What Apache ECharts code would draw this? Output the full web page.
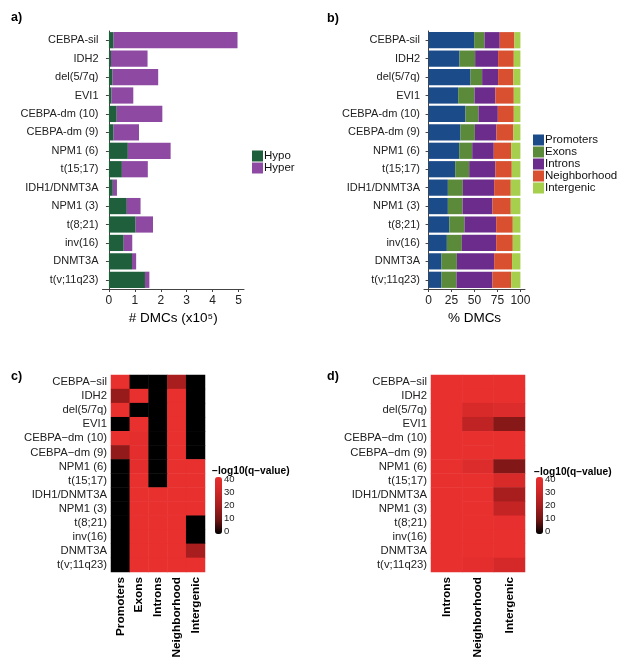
<!DOCTYPE html>
<html>
<head>
<meta charset="utf-8">
<script src="https://cdn.jsdelivr.net/npm/echarts@6/dist/echarts.min.js"></script>
<style>
  html, body { margin: 0; padding: 0; background: #fff; }
  #chart { width: 624px; height: 665px; }
</style>
</head>
<body>
<div id="chart"></div>
<script>
const groups = ['CEBPA-sil', 'IDH2', 'del(5/7q)', 'EVI1', 'CEBPA-dm (10)', 'CEBPA-dm (9)', 'NPM1 (6)',
  't(15;17)', 'IDH1/DNMT3A', 'NPM1 (3)', 't(8;21)', 'inv(16)', 'DNMT3A', 't(v;11q23)']
// heatmap panels print the dash as a minus sign
const groupsHeat = groups.map(g => g.replace('-', '\u2212'))

// a) number of DMCs (x10^5)
const hypo = [0.18, 0.08, 0.14, 0.10, 0.30, 0.18, 0.73, 0.50, 0.15, 0.69, 1.03, 0.57, 0.89, 1.39]
const hyper = [4.78, 1.41, 1.76, 0.84, 1.76, 0.98, 1.65, 1.00, 0.16, 0.53, 0.67, 0.33, 0.16, 0.17]
const ticksA = [0, 1, 2, 3, 4, 5]

// b) % DMCs per genomic region
const promoters = [49.6, 33.7, 45.7, 32.2, 40.2, 34.8, 33.3, 29.0, 21.0, 21.0, 22.5, 19.9, 14.1, 14.1]
const exons = [11.3, 17.0, 12.6, 17.8, 14.1, 15.6, 14.2, 15.2, 16.3, 16.0, 16.6, 16.3, 16.7, 16.3]
const introns = [16.6, 25.0, 17.4, 22.8, 21.1, 23.5, 23.5, 28.6, 34.1, 32.6, 34.5, 37.4, 40.6, 39.2]
const neighborhood = [16.0, 17.1, 16.7, 20.0, 17.4, 18.5, 18.9, 17.8, 18.1, 19.9, 18.1, 18.1, 19.5, 20.3]
const intergenic = [6.5, 7.2, 7.6, 7.2, 7.2, 7.6, 10.1, 9.4, 10.5, 10.5, 8.3, 8.3, 9.1, 10.1]
const ticksB = [0, 25, 50, 75, 100]

// c) -log10(q-value), columns: Promoters, Exons, Introns, Neighborhood, Intergenic
const regionsC = ['Promoters', 'Exons', 'Introns', 'Neighborhood', 'Intergenic']
const qvalC = [
  [40, 0, 0, 20, 0],
  [17, 40, 0, 40, 0],
  [40, 0, 0, 40, 0],
  [0, 40, 0, 40, 0],
  [40, 38, 0, 40, 0],
  [16, 38, 0, 40, 0],
  [0, 38, 0, 40, 40],
  [0, 40, 0, 40, 40],
  [0, 40, 40, 40, 40],
  [0, 40, 40, 40, 40],
  [0, 40, 40, 40, 0],
  [0, 40, 40, 40, 0],
  [0, 40, 40, 40, 20],
  [0, 40, 40, 40, 40]
]

// d) -log10(q-value), columns: Introns, Neighborhood, Intergenic
const regionsD = ['Introns', 'Neighborhood', 'Intergenic']
const qvalD = [
  [40, 40, 40],
  [40, 40, 40],
  [40, 33, 35],
  [40, 26, 14],
  [40, 40, 40],
  [40, 40, 40],
  [40, 35, 13],
  [40, 40, 33],
  [40, 40, 20],
  [40, 40, 27],
  [40, 40, 39],
  [40, 40, 40],
  [40, 40, 40],
  [40, 38, 32]
]

const scaleTicks = [0, 10, 20, 30, 40]

const font = 'Liberation Sans, Arial, sans-serif'
const heatColors = ['#000000', '#701414', '#a81e1e', '#d02727', '#e8302f']
const regionColors = ['#1c4b89', '#5c8a3b', '#6b2c8c', '#d8502f', '#a5cf4c']

function toCells(matrix) {
  const cells = []
  matrix.forEach((row, yi) => {
    row.forEach((v, xi) => {
      cells.push([xi, yi, v])
    })
  })
  return cells
}

const chart = echarts.init(document.getElementById('chart'))

const catLabel = { color: '#222', fontSize: 11, margin: 4, interval: 0 }
const heatLabel = { color: '#222', fontSize: 11.3, margin: 4, interval: 0 }
const axisLine = { show: true, lineStyle: { color: '#444', width: 1 } }
const panelTitle = { fontSize: 12.5, fontWeight: 'bold', color: '#000' }
const scaleTitle = { fontSize: 10.2, fontWeight: 'bold', color: '#000' }

chart.setOption({
  animation: false,
  textStyle: { fontFamily: font },
  title: [
    { text: 'a)', left: 6, top: 6, textStyle: panelTitle },
    { text: 'b)', left: 322, top: 7, textStyle: panelTitle },
    { text: 'c)', left: 6, top: 365, textStyle: panelTitle },
    { text: 'd)', left: 322, top: 365, textStyle: panelTitle },
    { text: '\u2212log10(q\u2212value)', left: 207, top: 461, textStyle: scaleTitle },
    { text: '\u2212log10(q\u2212value)', left: 529, top: 462, textStyle: scaleTitle }
  ],
  legend: [{
    data: ['Hypo', 'Hyper'],
    orient: 'vertical',
    left: 252,
    top: 150,
    padding: 0,
    itemGap: 0,
    itemWidth: 11,
    itemHeight: 11,
    icon: 'rect',
    textStyle: { fontSize: 11.5, color: '#111', lineHeight: 11, padding: [0, 0, 0, -4] }
  }, {
    data: ['Promoters', 'Exons', 'Introns', 'Neighborhood', 'Intergenic'],
    orient: 'vertical',
    left: 533,
    top: 134,
    padding: 0,
    itemGap: 0,
    itemWidth: 11,
    itemHeight: 11,
    icon: 'rect',
    textStyle: { fontSize: 11.5, color: '#111', lineHeight: 11, padding: [0, 0, 0, -4] }
  }],
  visualMap: [{
    type: 'continuous',
    seriesIndex: 7,
    min: 0,
    max: 40,
    calculable: false,
    text: null,
    showLabel: false,
    left: 215,
    top: 477,
    padding: 0,
    itemWidth: 7,
    itemHeight: 57,
    inRange: { color: heatColors }
  }, {
    type: 'continuous',
    seriesIndex: 8,
    min: 0,
    max: 40,
    calculable: false,
    text: null,
    showLabel: false,
    left: 536,
    top: 477,
    padding: 0,
    itemWidth: 7,
    itemHeight: 57,
    inRange: { color: heatColors }
  }],
  grid: [
    { left: 102.5, top: 31, width: 141.5, height: 258 },
    { left: 424, top: 31, width: 101, height: 258 },
    { left: 111, top: 375, width: 94, height: 197 },
    { left: 431, top: 375, width: 94, height: 197 },
    { left: 215, top: 479, width: 7, height: 52 },
    { left: 536, top: 479, width: 7, height: 52 }
  ],
  xAxis: [{
    gridIndex: 0,
    type: 'value',
    min: -0.248,
    max: 5.21,
    axisLine: axisLine,
    axisTick: { show: true, length: 3, lineStyle: { color: '#444' }, customValues: ticksA },
    axisLabel: { color: '#222', fontSize: 12, margin: 6, customValues: ticksA },
    splitLine: { show: false },
    name: '# DMCs (x10\u2075)',
    nameLocation: 'middle',
    nameGap: 22,
    nameTextStyle: { fontSize: 13.5, color: '#000' }
  }, {
    gridIndex: 1,
    type: 'value',
    min: -5,
    max: 105,
    axisLine: axisLine,
    axisTick: { show: true, length: 3, lineStyle: { color: '#444' }, customValues: ticksB },
    axisLabel: { color: '#222', fontSize: 12, margin: 6, customValues: ticksB },
    splitLine: { show: false },
    name: '% DMCs',
    nameLocation: 'middle',
    nameGap: 22,
    nameTextStyle: { fontSize: 13.5, color: '#000' }
  }, {
    gridIndex: 2,
    type: 'category',
    data: regionsC,
    axisLine: { show: false },
    axisTick: { show: false },
    axisLabel: { rotate: 90, interval: 0, fontSize: 11.8, fontWeight: 'bold', color: '#000', margin: 5 }
  }, {
    gridIndex: 3,
    type: 'category',
    data: regionsD,
    axisLine: { show: false },
    axisTick: { show: false },
    axisLabel: { rotate: 90, interval: 0, fontSize: 11.8, fontWeight: 'bold', color: '#000', margin: 5 }
  }, {
    gridIndex: 4, type: 'value', show: false
  }, {
    gridIndex: 5, type: 'value', show: false
  }],
  yAxis: [{
    gridIndex: 0,
    type: 'category',
    data: groups,
    inverse: true,
    axisLine: axisLine,
    axisTick: { show: true, length: 3, alignWithLabel: true, lineStyle: { color: '#444' } },
    axisLabel: catLabel
  }, {
    gridIndex: 1,
    type: 'category',
    data: groups,
    inverse: true,
    axisLine: axisLine,
    axisTick: { show: true, length: 3, alignWithLabel: true, lineStyle: { color: '#444' } },
    axisLabel: catLabel
  }, {
    gridIndex: 2,
    type: 'category',
    data: groupsHeat,
    inverse: true,
    axisLine: { show: false },
    axisTick: { show: false },
    axisLabel: heatLabel
  }, {
    gridIndex: 3,
    type: 'category',
    data: groupsHeat,
    inverse: true,
    axisLine: { show: false },
    axisTick: { show: false },
    axisLabel: heatLabel
  }, {
    gridIndex: 4,
    type: 'value',
    position: 'right',
    min: 0,
    max: 40,
    axisLine: { show: false },
    axisTick: { show: false },
    splitLine: { show: false },
    axisLabel: { fontSize: 9.5, color: '#222', margin: 2, customValues: scaleTicks }
  }, {
    gridIndex: 5,
    type: 'value',
    position: 'right',
    min: 0,
    max: 40,
    axisLine: { show: false },
    axisTick: { show: false },
    splitLine: { show: false },
    axisLabel: { fontSize: 9.5, color: '#222', margin: 2, customValues: scaleTicks }
  }],
  series: [
    { name: 'Hypo', type: 'bar', stack: 'a', xAxisIndex: 0, yAxisIndex: 0, barWidth: '88%', data: hypo, itemStyle: { color: '#1f5f3b' } },
    { name: 'Hyper', type: 'bar', stack: 'a', xAxisIndex: 0, yAxisIndex: 0, barWidth: '88%', data: hyper, itemStyle: { color: '#8e4aa3' } },
    { name: 'Promoters', type: 'bar', stack: 'b', xAxisIndex: 1, yAxisIndex: 1, barWidth: '88%', data: promoters, itemStyle: { color: regionColors[0] } },
    { name: 'Exons', type: 'bar', stack: 'b', xAxisIndex: 1, yAxisIndex: 1, barWidth: '88%', data: exons, itemStyle: { color: regionColors[1] } },
    { name: 'Introns', type: 'bar', stack: 'b', xAxisIndex: 1, yAxisIndex: 1, barWidth: '88%', data: introns, itemStyle: { color: regionColors[2] } },
    { name: 'Neighborhood', type: 'bar', stack: 'b', xAxisIndex: 1, yAxisIndex: 1, barWidth: '88%', data: neighborhood, itemStyle: { color: regionColors[3] } },
    { name: 'Intergenic', type: 'bar', stack: 'b', xAxisIndex: 1, yAxisIndex: 1, barWidth: '88%', data: intergenic, itemStyle: { color: regionColors[4] } },
    { name: 'qC', type: 'heatmap', xAxisIndex: 2, yAxisIndex: 2, data: toCells(qvalC), itemStyle: { borderWidth: 0 } },
    { name: 'qD', type: 'heatmap', xAxisIndex: 3, yAxisIndex: 3, data: toCells(qvalD), itemStyle: { borderWidth: 0 } }
  ]
})
</script>
</body>
</html>
